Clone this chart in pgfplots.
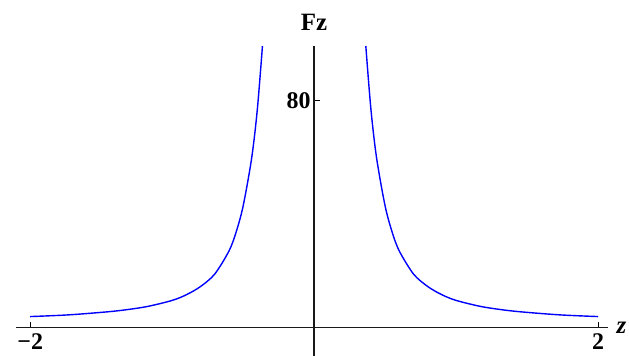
\documentclass[border=0pt]{standalone}
\usepackage{fontspec}
\setmainfont{Liberation Serif}
\usepackage{pgfplots}
\pgfplotsset{compat=1.18}
\begin{document}
\begin{tikzpicture}
\begin{axis}[
  at={(16bp,0bp)}, anchor=south west,
  scale only axis, width=592bp, height=310bp,
  axis lines=middle,
  xmin=-2.1, xmax=2.07, ymin=-10, ymax=99.3,
  xtick={-2,2}, xticklabels={−2,2},
  ytick={80}, yticklabels={80},
  /pgf/number format/assume math mode=true,
  ticklabel style={font=\fontsize{24}{24}\selectfont\bfseries},
  xticklabel style={yshift=-3bp},
  yticklabel style={anchor=east, xshift=0bp},
  tick style={black, line width=1.1bp},
  major tick length=6bp,
  tick align=inside,
  axis line style={black!90, line width=1.4bp, -},
  xlabel={\textbf{\textit{z}}},
  ylabel={\textbf{Fz}},
  label style={font=\fontsize{25}{25}\selectfont},
  xlabel style={anchor=west, xshift=5bp},
  ylabel style={anchor=center, yshift=24bp},
  clip=true,
]
% force on the probe as a function of its height z (left and right branches)
\addplot[blue, line width=1.4bp, smooth] coordinates {
  (-2.0,3.9) (-1.73,4.5) (-1.45,5.6) (-1.31,6.4) (-1.17,7.5)
  (-1.0,9.6) (-0.9,11.6) (-0.8,14.5) (-0.7,18.9) (-0.6,27.0)
  (-0.55,33.6) (-0.5,42.9) (-0.44,59.8) (-0.4,77.0) (-0.364,99.3)
};
\addplot[blue, line width=1.4bp, smooth] coordinates {
  (0.364,99.3) (0.4,77.0) (0.44,59.8) (0.5,42.9) (0.55,33.6)
  (0.6,27.0) (0.7,18.9) (0.8,14.5) (0.9,11.6) (1.0,9.6)
  (1.17,7.5) (1.31,6.4) (1.45,5.6) (1.73,4.5) (2.0,3.9)
};
\end{axis}
\pgfresetboundingbox
\path[use as bounding box] (0,0) rectangle (629bp,356bp);
\end{tikzpicture}
\end{document}
